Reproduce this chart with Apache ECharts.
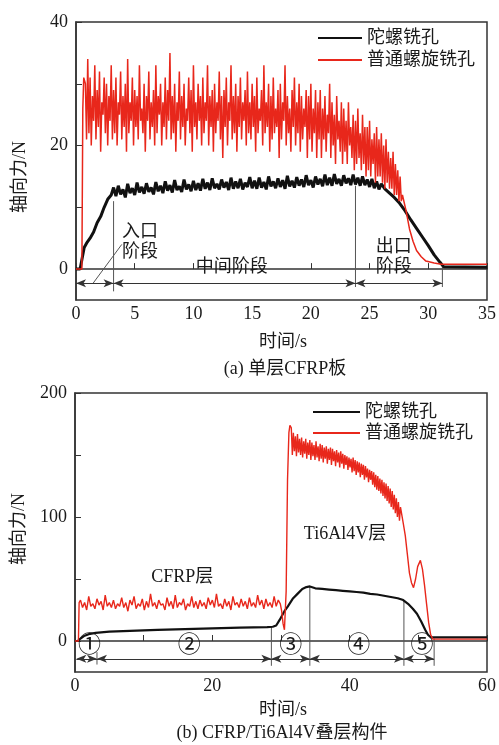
<!DOCTYPE html>
<html><head><meta charset="utf-8">
<script src="https://cdn.jsdelivr.net/npm/echarts@6/dist/echarts.min.js"></script>
<style>html,body{margin:0;padding:0;background:#fff}#c{width:499px;height:745px}</style>
</head><body><div id="c"></div>
<script>
// ---------- (a) single CFRP plate ----------
const seriesNames = ['陀螺铣孔', '普通螺旋铣孔'];
const topXTicks = [0, 5, 10, 15, 20, 25, 30, 35];
const topYTicks = [0, 10, 20, 30, 40];
const topYLabels = [0, 20, 40];

const topRedLead = [[0, 0], [0.5, 0], [0.58, 26], [0.66, 31]];
const topRedStart = 0.8, topRedStep = 0.1;
const topRedNoise = [
  30, 21, 34, 22, 31, 20, 28, 24, 33, 21,
  29, 23, 32, 19, 27, 25, 31, 22, 30, 20,
  28, 24, 33, 21, 29, 22, 31, 20, 27, 25,
  32, 21, 28, 23, 30, 19, 34, 22, 27, 24,
  31, 20, 29, 23, 28, 21, 33, 24, 26, 22,
  30, 19, 28, 24, 32, 21, 27, 23, 29, 20,
  33, 22, 28, 25, 30, 20, 27, 23, 31, 21,
  29, 24, 35, 21, 28, 22, 30, 19, 27, 24,
  32, 21, 28, 23, 30, 20, 26, 24, 31, 22,
  29, 19, 33, 23, 27, 21, 30, 24, 28, 20,
  31, 22, 27, 24, 33, 20, 28, 23, 29, 19,
  30, 22, 27, 24, 32, 21, 28, 18, 29, 23,
  31, 20, 27, 24, 33, 21, 28, 22, 30, 19,
  28, 23, 31, 21, 27, 24, 29, 20, 32, 22,
  27, 21, 30, 23, 28, 19, 31, 22, 26, 24,
  29, 20, 33, 22, 27, 23, 30, 19, 28, 21,
  31, 22, 26, 23, 29, 18, 30, 21, 27, 24,
  33, 20, 28, 22, 26, 19, 29, 23, 31, 20,
  27, 22, 30, 19, 28, 21, 26, 23, 29, 18,
  28, 21, 30, 19, 26, 22, 29, 18, 27, 21,
  29, 18, 26, 21, 28, 19, 25, 22, 30, 18,
  27, 20, 25, 17, 28, 21, 24, 19, 27, 17,
  26, 19, 24, 17, 27, 20, 23, 18, 25, 16,
  24, 17, 26, 18, 22, 16, 25, 17, 23, 15,
  23, 16, 24, 15, 21, 17, 22, 14, 23, 15,
  21, 15, 22, 14, 20, 13, 21, 14, 19, 13,
  18, 13, 19, 12, 17, 12, 16, 11, 15, 11,
  12
];
const topRedTail = [[28.1, 9.5], [28.4, 6.5], [28.7, 4.5], [29.0, 3], [29.4, 2], [29.8, 1.3], [30.5, 1], [31.1, 0.8], [35, 0.8]];

const topBlackLead = [[0, 0], [0.35, 0], [0.5, 1.5], [0.7, 3.5], [0.9, 4.2], [1.2, 5], [1.5, 6], [1.8, 7.5], [2.1, 8.5], [2.4, 10], [2.7, 11.3], [3.0, 12]];
const topBlackStart = 3.2, topBlackStep = 0.2;
const topBlackNoise = [
  13.2, 11.8, 13.5, 12.1, 12.9, 11.6, 13.8, 12.3, 13.1, 12.0, 14.0, 12.4, 13.3, 12.2, 13.9, 12.5, 13.2, 12.1, 14.1, 12.6,
  13.5, 12.3, 14.2, 12.7, 13.6, 12.4, 14.4, 12.8, 13.4, 12.5, 14.5, 12.9, 13.7, 12.6, 14.3, 12.8, 13.9, 12.7, 14.6, 13.0,
  14.0, 12.8, 14.7, 13.1, 13.8, 12.9, 14.5, 13.2, 14.1, 12.8, 14.8, 13.0, 14.2, 13.1, 14.6, 12.9, 14.0, 13.3, 14.9, 13.1,
  14.3, 13.0, 14.8, 13.2, 14.1, 12.9, 15.0, 13.4, 14.2, 13.1, 14.7, 13.3, 14.4, 13.0, 15.1, 13.4, 14.3, 13.2, 14.9, 13.5,
  14.5, 13.3, 15.2, 13.6, 14.4, 13.2, 15.0, 13.7, 14.6, 13.4, 15.3, 13.6, 14.8, 13.5, 15.4, 13.8, 14.6, 13.5, 15.2, 13.9,
  14.7, 13.6, 15.3, 13.7, 14.8, 13.5, 15.0, 13.6, 14.5, 13.3, 14.6, 13.1, 14.2, 12.9, 13.8
];
const topBlackTail = [[26.3, 13.0], [26.7, 12.3], [27.1, 11.6], [27.5, 10.8], [28.0, 9.5], [28.5, 8], [29, 6.6], [29.5, 5.2], [30, 3.8], [30.5, 2.3], [31, 1.1], [31.3, 0.4], [35, 0.3]];

// stage annotations (a)
const topBounds = [0, 3.2, 23.8, 31.2];
const topArrowY = -2.3;
const topDividers = [[3.2, 11, -3.6], [23.8, 13.5, -2.9], [31.2, 0.8, -2.9]];
const topPointer = [[3.9, 4], [1.45, -2.3]];
const topTexts = [['入口\n阶段', 5.5, 4.2], ['中间阶段', 13.3, 0.2], ['出口\n阶段', 27.1, 1.8]];

// ---------- (b) CFRP/Ti6Al4V stack ----------
const botXTicks = [0, 10, 20, 30, 40, 50, 60];
const botXLabels = [0, 20, 40, 60];
const botYTicks = [0, 50, 100, 150, 200];
const botYLabels = [0, 100, 200];

const botRedLead = [[0, 0], [0.5, 0], [0.6, 31]];
const botRedCfrpStart = 0.8, botRedCfrpStep = 0.3;
const botRedCfrp = [
  33, 27, 31, 25, 36, 28, 30, 26, 34, 29, 32, 25, 37, 28, 31, 27, 33, 26, 30, 28,
  35, 27, 31, 24, 33, 29, 36, 26, 30, 28, 34, 25, 32, 27, 38, 28, 31, 26, 33, 29,
  30, 25, 35, 28, 32, 26, 37, 27, 31, 29, 34, 25, 30, 28, 36, 27, 32, 26, 33, 28,
  31, 26, 35, 29, 33, 27, 38, 28, 30, 26, 34, 28, 32, 25, 36, 29, 31, 27, 34, 28,
  32, 26, 35, 28, 31, 27, 37, 29, 33, 26, 34, 28, 31, 27, 36, 28, 33, 30
];
const botRedMid = [[30.1, 24], [30.3, 14], [30.5, 9], [30.75, 40], [30.95, 130], [31.15, 168], [31.3, 174]];
const botRedTiStart = 31.5, botRedTiStep = 0.15;
const botRedTi = [
  172, 150, 168, 153, 165, 149, 167, 152, 163, 150,
  164, 148, 161, 151, 163, 147, 160, 150, 162, 146,
  160, 149, 158, 146, 161, 148, 157, 145, 159, 147,
  158, 144, 156, 147, 157, 143, 155, 146, 156, 142,
  155, 145, 153, 141, 154, 144, 152, 140, 153, 143,
  151, 139, 150, 142, 149, 138, 148, 140, 147, 136,
  148, 137, 146, 134, 145, 136, 144, 132, 143, 134,
  142, 130, 141, 132, 139, 128, 138, 130, 137, 126,
  136, 124, 134, 122, 133, 121, 131, 119, 130, 117,
  128, 115, 127, 113, 125, 111, 123, 108, 121, 106,
  118, 103, 115, 100, 112, 97, 108
];
const botRedTail = [[47.8, 95], [48.1, 85], [48.4, 70], [48.7, 55], [49.0, 47], [49.3, 43], [49.6, 50], [49.9, 60], [50.3, 65], [50.6, 58], [50.9, 45], [51.2, 30], [51.5, 15], [51.8, 5], [52.1, 1.5], [60, 1.5]];

const botBlack = [[0, 0], [0.4, 0], [0.8, 2], [1.3, 4], [2, 5.5], [3, 6.5], [5, 7.5], [8, 8.2], [12, 9], [16, 9.6], [20, 10.2], [24, 10.8], [28, 11.2], [28.8, 11.5], [29.3, 12.5], [29.8, 17], [30.5, 24], [31, 28], [31.7, 34], [32.4, 38], [33.1, 42], [33.7, 43.5], [34.2, 44], [35, 42.5], [36, 42], [37, 41.5], [38, 41], [39, 40.5], [40, 40], [41, 39.5], [42, 39], [43, 38], [44, 37.5], [45, 36.5], [46, 35.5], [47, 34.5], [47.8, 33], [48.5, 30], [49.2, 26], [49.8, 22], [50.4, 16], [51, 9], [51.4, 5], [51.8, 3], [60, 3]];

// stage annotations (b)
const botBounds = [0.2, 3.2, 28.6, 34.2, 47.9, 52.3];
const botArrowY = -14.4;
const botDividers = [[3.2, -9, -19], [28.6, 11.5, -20], [34.2, 44, -20], [47.9, 33, -20], [52.3, 2, -20]];
const botTexts = [['①', 2.2, -4.8], ['②', 16.7, -4.8], ['③', 31.5, -4], ['④', 41.4, -4], ['⑤', 50.6, -4], ['CFRP层', 15.7, 51], ['Ti6Al4V层', 39.4, 86]];

// ---------- build ----------
const FONT = "'Liberation Serif', 'Noto Sans CJK SC', serif";
const RED = '#e8271b', BLACK = '#111111', TXT = '#1a1a1a';

function sampled(lead, start, step, vals, tail) {
  return lead.concat(vals.map((v, i) => [+(start + i * step).toFixed(3), v]), tail);
}
const topRed = sampled(topRedLead, topRedStart, topRedStep, topRedNoise, topRedTail);
const topBlack = sampled(topBlackLead, topBlackStart, topBlackStep, topBlackNoise, topBlackTail);
const botRed = botRedLead.concat(
  botRedCfrp.map((v, i) => [+(botRedCfrpStart + i * botRedCfrpStep).toFixed(3), v]),
  botRedMid,
  botRedTi.map((v, i) => [+(botRedTiStart + i * botRedTiStep).toFixed(3), v]),
  botRedTail);

function arrowLines(bounds, y) {
  const d = [];
  for (let i = 0; i < bounds.length - 1; i++) d.push([{ coord: [bounds[i], y] }, { coord: [bounds[i + 1], y] }]);
  return d;
}
function dividerSeries(list, g) {
  return list.map(d => ({
    type: 'line', xAxisIndex: g, yAxisIndex: g, data: [[d[0], d[1]], [d[0], d[2]]],
    symbol: 'none', silent: true, lineStyle: { color: '#555', width: 1 }, z: 1
  }));
}
function textSeries(list, g) {
  return {
    type: 'scatter', xAxisIndex: g, yAxisIndex: g, symbolSize: 1, silent: true,
    itemStyle: { color: 'rgba(0,0,0,0)', opacity: 1 }, z: 5,
    data: list.map(t => ({ name: t[0], value: [t[1], t[2]], label: { fontSize: (t[0].length === 1 ? 23 : 18) } })),
    label: { show: true, position: [0, 0], formatter: p => p.name, color: TXT, fontFamily: FONT, lineHeight: 20, align: 'center', verticalAlign: 'middle' }
  };
}
function xAxis(g, min, max, ticks, labels) {
  return {
    gridIndex: g, type: 'value', min: min, max: max,
    axisLine: { lineStyle: { color: '#333', width: 1.5 } },
    axisTick: { inside: true, length: 6, customValues: ticks, lineStyle: { color: '#333' } },
    axisLabel: { customValues: labels, margin: 5, fontSize: 18, color: TXT, fontFamily: FONT },
    splitLine: { show: false }
  };
}
function yAxis(g, min, max, ticks, labels) {
  return {
    gridIndex: g, type: 'value', min: min, max: max,
    axisLine: { show: true, lineStyle: { color: '#333', width: 1.5 } },
    axisTick: { show: true, inside: true, length: 6, customValues: ticks, lineStyle: { color: '#333' } },
    axisLabel: { customValues: labels, margin: 8, fontSize: 18, color: TXT, fontFamily: FONT },
    splitLine: { show: false }
  };
}
const arrowMark = (bounds, y) => ({
  silent: true, symbol: ['arrow', 'arrow'], symbolSize: [6, 10], animation: false,
  label: { show: false }, lineStyle: { color: '#333', width: 1, type: 'solid' },
  data: arrowLines(bounds, y)
});
function legend(left, top, w, lh) {
  return {
    left: left, top: top, orient: 'vertical', padding: 0, itemWidth: w, itemHeight: 2, itemGap: 1,
    icon: 'rect', selectedMode: false, data: seriesNames,
    textStyle: { fontSize: 18, lineHeight: lh, color: TXT, fontFamily: FONT }
  };
}
function gtext(txt, x, y, rot) {
  return { type: 'text', x: x, y: y, rotation: rot || 0, silent: true,
    style: { text: txt, fontSize: 18, fontFamily: FONT, fill: TXT, textAlign: 'center', textVerticalAlign: 'middle' } };
}

const chart = echarts.init(document.getElementById('c'), null, { renderer: 'canvas' });
chart.setOption({
  animation: false,
  backgroundColor: '#fff',
  grid: [
    { left: 76, right: 11, top: 22, height: 278, show: true, borderColor: '#333', borderWidth: 1.5 },
    { left: 75, right: 11, top: 393, height: 279, show: true, borderColor: '#333', borderWidth: 1.5 }
  ],
  xAxis: [xAxis(0, 0, 35, topXTicks, topXTicks), xAxis(1, 0, 60, botXTicks, botXLabels)],
  yAxis: [yAxis(0, -5, 40, topYTicks, topYLabels), yAxis(1, -25, 200, botYTicks, botYLabels)],
  legend: [legend(318, 27.5, 44, 21), legend(313, 402, 47, 20)],
  graphic: [
    gtext('轴向力/N', 20, 177, Math.PI / 2),
    gtext('时间/s', 283, 342),
    gtext('(a) 单层CFRP板', 285, 369),
    gtext('轴向力/N', 19, 529, Math.PI / 2),
    gtext('时间/s', 283, 710),
    gtext('(b) CFRP/Ti6Al4V叠层构件', 282, 733)
  ],
  series: [
    { name: seriesNames[0], type: 'line', xAxisIndex: 0, yAxisIndex: 0, data: topBlack, symbol: 'none', color: BLACK,
      lineStyle: { color: BLACK, width: 3 }, z: 2, markLine: arrowMark(topBounds, topArrowY) },
    { name: seriesNames[1], type: 'line', xAxisIndex: 0, yAxisIndex: 0, data: topRed, symbol: 'none', color: RED,
      lineStyle: { color: RED, width: 1.5 }, z: 3 },
    { name: seriesNames[0], type: 'line', xAxisIndex: 1, yAxisIndex: 1, data: botBlack, symbol: 'none', color: BLACK,
      lineStyle: { color: BLACK, width: 2.2 }, z: 2, markLine: arrowMark(botBounds, botArrowY) },
    { name: seriesNames[1], type: 'line', xAxisIndex: 1, yAxisIndex: 1, data: botRed, symbol: 'none', color: RED,
      lineStyle: { color: RED, width: 1.4 }, z: 3 },
    { type: 'line', xAxisIndex: 0, yAxisIndex: 0, data: topPointer, symbol: 'none', silent: true,
      lineStyle: { color: '#555', width: 1 }, z: 1 },
    textSeries(topTexts, 0),
    textSeries(botTexts, 1)
  ].concat(dividerSeries(topDividers, 0), dividerSeries(botDividers, 1))
});
</script></body></html>
